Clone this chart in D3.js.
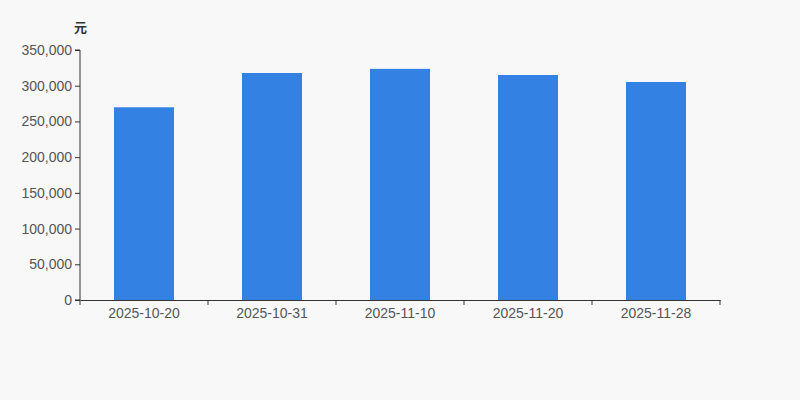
<!DOCTYPE html>
<html>
<head>
<meta charset="utf-8">
<script src="https://cdn.jsdelivr.net/npm/d3@7"></script>
<style>
  body { margin: 0; background: #f8f8f8; }
  svg { display: block; }
</style>
</head>
<body>
<div id="chart"></div>
<script>
// chart data
const categories = ["2025-10-20", "2025-10-31", "2025-11-10", "2025-11-20", "2025-11-28"];
const values = [269800, 317800, 323600, 315000, 305200];
const yTicks = [0, 50000, 100000, 150000, 200000, 250000, 300000, 350000];
const unitLabel = "元";

const width = 800, height = 400;
const margin = { top: 50, right: 80, bottom: 100, left: 80 };

const svg = d3.select("#chart").append("svg")
    .attr("width", width)
    .attr("height", height)
    .style("background", "#f8f8f8");

const x = d3.scaleBand()
    .domain(categories)
    .range([margin.left, width - margin.right]);

const y = d3.scaleLinear()
    .domain([0, 350000])
    .range([height - margin.bottom, margin.top]);

const barW = 60;

// bars
svg.selectAll(".bar")
    .data(values)
    .enter().append("rect")
    .attr("class", "bar")
    .attr("x", (d, i) => x(categories[i]) + (x.bandwidth() - barW) / 2)
    .attr("y", d => y(d))
    .attr("width", barW)
    .attr("height", d => y(0) - y(d))
    .attr("fill", "#3381e3");

// y axis
const yAxis = svg.append("g")
    .attr("transform", "translate(" + margin.left + ",0)")
    .call(d3.axisLeft(y).tickValues(yTicks).tickSize(5).tickPadding(3)
        .tickFormat(d3.format(",")));

// x axis, ticks on band edges
const xAxis = svg.append("g")
    .attr("transform", "translate(0," + y(0) + ")")
    .call(d3.axisBottom(x).tickSize(0).tickPadding(8));

xAxis.selectAll(".edge")
    .data(d3.range(categories.length + 1))
    .enter().append("line")
    .attr("class", "edge")
    .attr("x1", i => margin.left + i * x.step())
    .attr("x2", i => margin.left + i * x.step())
    .attr("y1", 0)
    .attr("y2", 5)
    .attr("stroke", "#333");

[yAxis, xAxis].forEach(g => {
    g.select(".domain").attr("stroke", "#333").attr("stroke-width", 1);
    g.selectAll(".tick line").attr("stroke", "#333");
    g.selectAll("text")
        .attr("fill", "#555")
        .style("font-family", "Arial, 'Liberation Sans', sans-serif")
        .style("font-size", "14px");
});
yAxis.select(".domain").attr("d", "M-5," + y(350000) + "H0V" + y(0) + "H-5");

// unit label
svg.append("text")
    .attr("x", 74)
    .attr("y", 32)
    .attr("fill", "#333")
    .style("font-family", "'Noto Sans CJK SC', sans-serif")
    .style("font-size", "13px")
    .style("font-weight", "bold")
    .text(unitLabel);
</script>
</body>
</html>
